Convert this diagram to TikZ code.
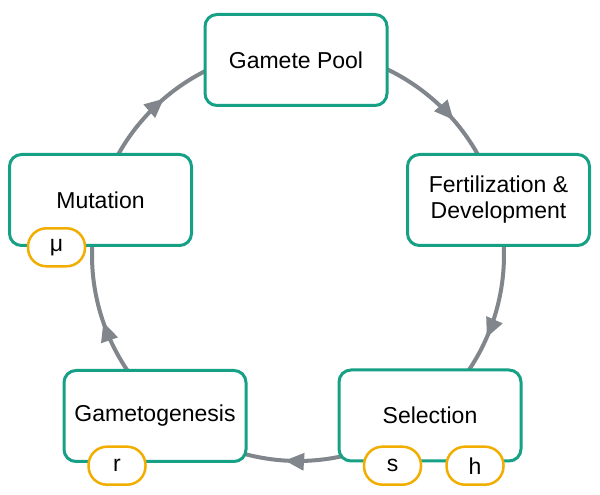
\documentclass[tikz,border=0pt]{standalone}
\usepackage{fontspec}
\setmainfont{Liberation Sans}
\usetikzlibrary{arrows.meta,decorations.markings}
\definecolor{boxteal}{HTML}{16A085}
\definecolor{amber}{HTML}{F2AE00}
\definecolor{linegray}{HTML}{80868B}
\begin{document}
\begin{tikzpicture}[x=1pt,y=1pt,
  stage/.style={draw=boxteal, line width=3pt, rounded corners=12pt, fill=white,
    minimum width=182pt, minimum height=91pt, align=center, inner sep=0pt,
    font=\fontsize{23}{26}\selectfont},
  param/.style={draw=amber, line width=2.5pt, rounded corners=18.5pt, fill=white,
    minimum width=57pt, minimum height=38pt, inner sep=0pt,
    font=\fontsize{23}{26}\selectfont},
  flow/.style={draw=linegray, line width=4pt, postaction=decorate,
    decoration={markings, mark=at position #1 with
      {\arrow{Triangle[length=19pt,width=18pt,line width=0pt]}}}}
]
\useasboundingbox (0,0) rectangle (600,495);
\fill[white] (0,0) rectangle (600,495);
\coordinate (c) at (298,240);
% cycle arcs
\draw[flow=0.655] (c) ++(90:206) arc[start angle=90, end angle=15.3, radius=206];
\draw[flow=0.589] (c) ++(15.3:206) arc[start angle=15.3, end angle=-50.6, radius=206];
\draw[flow=0.531] (c) ++(-50.6:206) arc[start angle=-50.6, end angle=-131.6, radius=206];
\draw[flow=0.458] (c) ++(228.4:206) arc[start angle=228.4, end angle=164.4, radius=206];
\draw[flow=0.453] (c) ++(164.4:206) arc[start angle=164.4, end angle=90, radius=206];
% stages
\node[stage] (pool) at (296,435) {Gamete Pool};
\node[stage] (fert) at (498.5,295) {Fertilization \&\\Development};
\node[stage] (sel) at (430,79.5) {Selection};
\node[stage] (gam) at (155,79) {Gametogenesis};
\node[stage] (mut) at (100.5,295) {Mutation};
% parameters
\node[param] (mu) at (56.5,247.7) {μ};
\node[param] (r) at (117,29.3) {r};
\node[param] (s) at (392.5,29.3) {s};
\node[param] (h) at (475,29.3) {h};
\end{tikzpicture}
\end{document}
